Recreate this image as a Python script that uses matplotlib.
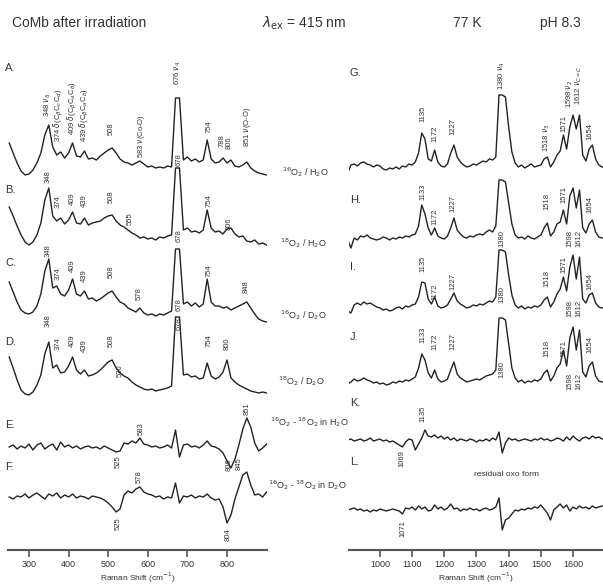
import matplotlib.pyplot as plt

plt.rcParams['font.family'] = ['Liberation Sans', 'DejaVu Sans']
plt.rcParams['mathtext.fontset'] = 'dejavusans'

# x grids (cm-1)
wn_left = list(range(250, 901, 10))
wn_right = list(range(900, 1701, 10))

# spectra, intensities in arbitrary units above each trace baseline
A = [22, 12, 2, -6, -10, -9, -5, 2, 12, 30, 40, 18, 10, 13, 7, 12, 22, 9, 8, 14,
     6, 7, 5, 9, 12, 15, 17, 12, 6, 3, 2, 0, 2, 4, 1, -2, -1, -3, -2, -3,
     -1, -2, 67, 67, 5, 8, 4, 6, 3, 5, 25, 6, 2, 3, 7, 2, 5, -1, -2, 0,
     3, -3, -6, -8, -9, -10]
B = [31, 22, 12, 3, -4, -7, -4, 3, 15, 38, 50, 22, 17, 20, 14, 18, 26, 15, 14, 20,
     13, 15, 16, 17, 20, 22, 23, 17, 13, 11, 8, 5, 3, 0, 1, -1, 0, -2, 1, 0,
     2, 3, 70, 70, 8, 10, 6, 7, 5, 8, 28, 10, 6, 7, 4, 9, 10, 4, 1, 2,
     -3, -4, -2, -6, -5, -7]
C = [34, 24, 14, 6, 3, 2, 4, 10, 22, 45, 57, 28, 30, 22, 20, 26, 37, 22, 20, 25,
     17, 18, 15, 17, 20, 23, 25, 19, 14, 12, 8, 6, 4, 8, 3, 1, 2, 0, 2, 1,
     3, 5, 67, 67, 12, 14, 10, 13, 9, 12, 37, 14, 10, 10, 8, 9, 6, 8, 10, 12,
     14, 8, 2, -3, -5, -6]
D = [33, 22, 10, 0, -4, -5, -2, 5, 15, 36, 48, 22, 25, 17, 18, 24, 33, 20, 16, 20,
     14, 15, 17, 20, 24, 28, 30, 22, 17, 14, 12, 8, 5, 3, 1, 0, 1, -1, 0, 1,
     2, 4, 73, 73, 15, 16, 13, 14, 11, 12, 27, 14, 11, 13, 18, 30, 12, 8, 5, 3,
     1, -1, -2, -3, -2, -3]
E = [0, 2, -2, 1, -1, 3, -3, 2, 4, -2, 1, 3, -3, 5, 0, 2, -1, 1, -2, 0,
     1, -1, 0, -2, 1, -1, -3, -5, -4, 4, 3, 6, 4, 9, 3, 2, 0, 1, -1, 0,
     2, -1, 17, -10, 2, 3, 0, 1, -1, 2, 6, 1, 0, -2, -6, -14, -21, -12, 2, 18,
     29, 20, 4, -4, -1, 3]
F = [0, -2, 1, 0, 3, -1, 2, 4, 1, -2, 3, 1, 4, -1, 2, 0, 3, -1, 1, 0,
     -2, 1, 0, -1, -3, -6, -10, -15, -12, 2, 6, 4, 8, 10, 5, 3, 2, 0, 1, -2,
     0, -1, 14, -6, 1, 0, 2, -1, 1, 0, 3, -1, -3, -2, -10, -26, -18, -2, 10, 22,
     25, 12, 2, 3, 0, 5]

G = [-6, 2, 3, 1, 4, 5, 3, 2, 0, 2, 1, -2, -3, -1, -2, 0, -2, 1, 0, 3,
     2, 5, 14, 34, 28, 8, 6, 17, 5, 1, 0, 3, 14, 22, 10, 5, 2, 0, 1, 3,
     2, 4, 6, 5, 8, 7, 10, 72, 72, 70, 40, 15, 4, 0, 2, -1, 1, 3, 0, 1,
     2, 8, 10, 0, 5, 12, 16, 32, 18, 40, 52, 38, 52, 12, 6, 18, 22, 8, 2, 0, 0]
H = [-2, -10, 0, -2, 2, 1, 3, 0, -1, -2, -1, 1, 0, -2, 0, -1, 1, 0, 2, 1,
     3, 4, 12, 33, 24, 10, 3, 10, 2, 0, -1, 2, 10, 20, 8, 4, 1, 0, 2, 1,
     3, 4, 3, 6, 8, 6, 12, 58, 58, 56, 35, 14, 3, 0, 1, -1, 2, 0, -1, 1,
     3, 10, 15, 2, 6, 14, 16, 28, 14, 42, 50, 30, 48, 10, 5, 14, 18, 6, 1, 0, 0]
I = [-4, -6, 2, 4, 2, 5, 3, 4, 2, 0, -1, -3, -2, -4, -3, -1, 0, -2, 1, 0,
     2, 3, 10, 25, 24, 8, 3, 10, 1, -1, 0, 2, 8, 14, 6, 3, 1, -1, 0, 2,
     1, 3, 2, 4, 6, 5, 10, 57, 57, 55, 32, 12, 2, -1, 1, -2, 0, -1, 1, 0,
     2, 7, 10, 0, 5, 13, 18, 30, 16, 40, 52, 28, 50, 8, 4, 12, 14, 4, 0, -1, 0]
J = [-2, 0, 3, 1, 2, 4, 2, 1, -1, 0, -2, -1, -3, -2, 0, -1, 1, 0, 2, 1,
     3, 5, 14, 28, 22, 9, 4, 12, 3, 0, 1, 3, 12, 20, 8, 4, 2, 0, 1, 2,
     3, 2, 4, 6, 7, 8, 12, 64, 64, 62, 38, 14, 4, 0, 2, -1, 1, 0, 2, 1,
     3, 9, 12, 1, 6, 14, 18, 32, 16, 44, 55, 32, 52, 10, 5, 16, 20, 6, 1, 0, 0]
K = [0, 1, -1, 0, 1, -1, 0, 2, -1, 0, 1, -1, 0, -2, -1, -3, -5, -7, -2, 1,
     0, -10, -4, 2, 10, 4, 3, 5, 2, 4, 1, 3, 0, 2, -1, 1, 0, -1, 1, 0,
     -2, 0, -1, 1, -1, 2, 0, 8, -13, -3, 2, 0, 1, -1, 0, 1, 0, -1, 1, 0,
     2, 0, 1, -1, 0, 2, 1, -1, 3, 0, 4, 1, -1, 2, 3, 1, 4, 2, 3, 1, 2]
L = [0, 1, 2, 0, 1, -1, 0, -2, 0, -1, 1, 0, -1, 0, 1, 0, -1, -4, 2, 1,
     3, 0, 4, 1, 3, -1, 0, 5, 1, 3, 0, 2, 6, 1, 2, -1, 1, 0, 2, 0,
     1, -1, 1, 2, 0, 1, 3, 12, -20, -10, -8, -4, 0, -1, 1, 0, 2, 1, 3, 2,
     5, 1, -3, -10, 0, 3, 6, 2, 5, -1, 3, 1, 4, 2, 3, 1, 4, 2, 3, 4, 5]

left_traces = [("A", A), ("B", B), ("C", C), ("D", D), ("E", E), ("F", F)]
right_traces = [("G", G), ("H", H), ("I", I), ("J", J), ("K", K), ("L", L)]

sample_names = [r"$^{16}$O$_2$ / H$_2$O", r"$^{18}$O$_2$ / H$_2$O",
                r"$^{16}$O$_2$ / D$_2$O", r"$^{18}$O$_2$ / D$_2$O",
                r"$^{16}$O$_2$ - $^{18}$O$_2$ in H$_2$O",
                r"$^{16}$O$_2$ - $^{18}$O$_2$ in D$_2$O"]

# peak annotations: (wavenumber, text, pixel y, 'b' = text above / 't' = text below)
left_peaks = [
    (348, r"348 $\nu_8$", 117, 'b'), (374, r"374 $\delta$(C$_\beta$C$_c$C$_d$)", 142, 'b'),
    (409, r"409 $\delta$(C$_\beta$C$_a$C$_b$)", 135, 'b'), (439, r"439 $\delta$(C$_\beta$C$_a$C$_b$)", 142, 'b'),
    (508, "508", 135, 'b'), (583, r"583 $\nu$(Co-O)", 158, 'b'), (676, r"676 $\nu_4$", 85, 'b'),
    (678, "678", 166, 'b'), (754, "754", 133, 'b'), (788, "788", 147, 'b'), (806, "806", 149, 'b'),
    (851, r"851 $\nu$(O-O)", 147, 'b'),
    (348, "348", 183, 'b'), (374, "374", 208, 'b'), (409, "409", 205, 'b'), (439, "439", 207, 'b'),
    (508, "508", 203, 'b'), (555, "555", 225, 'b'), (678, "678", 242, 'b'), (754, "754", 207, 'b'),
    (806, "806", 230, 'b'),
    (348, "348", 257, 'b'), (374, "374", 280, 'b'), (409, "409", 272, 'b'), (439, "439", 282, 'b'),
    (508, "508", 278, 'b'), (578, "578", 300, 'b'), (678, "678", 311, 'b'), (754, "754", 277, 'b'),
    (848, "848", 293, 'b'),
    (348, "348", 327, 'b'), (374, "374", 350, 'b'), (409, "409", 347, 'b'), (439, "439", 352, 'b'),
    (508, "508", 347, 'b'), (530, "530", 377, 'b'), (678, "678", 330, 'b'), (754, "754", 347, 'b'),
    (800, "800", 350, 'b'),
    (525, "525", 455, 't'), (583, "583", 435, 'b'), (851, "851", 415, 'b'), (806, "806", 458, 't'),
    (830, "845", 470, 'b'),
    (525, "525", 517, 't'), (578, "578", 483, 'b'), (804, "804", 528, 't'),
]
right_peaks = [
    (1135, "1135", 122, 'b'), (1172, "1172", 142, 'b'), (1227, "1227", 135, 'b'),
    (1380, r"1380 $\nu_4$", 90, 'b'), (1518, r"1518 $\nu_3$", 152, 'b'), (1571, "1571", 132, 'b'),
    (1591, r"1598 $\nu_2$", 108, 'b'), (1619, r"1612 $\nu_{C=C}$", 105, 'b'), (1654, "1654", 140, 'b'),
    (1133, "1133", 200, 'b'), (1172, "1172", 225, 'b'), (1227, "1227", 212, 'b'), (1380, "1380", 247, 'b'),
    (1518, "1518", 210, 'b'), (1571, "1571", 203, 'b'), (1591, "1598", 247, 'b'), (1619, "1612", 247, 'b'),
    (1654, "1654", 213, 'b'),
    (1135, "1135", 272, 'b'), (1172, "1172", 300, 'b'), (1227, "1227", 290, 'b'), (1380, "1380", 303, 'b'),
    (1518, "1518", 287, 'b'), (1571, "1571", 273, 'b'), (1591, "1598", 317, 'b'), (1619, "1612", 317, 'b'),
    (1654, "1654", 290, 'b'),
    (1133, "1133", 343, 'b'), (1172, "1172", 350, 'b'), (1227, "1227", 350, 'b'), (1380, "1380", 378, 'b'),
    (1518, "1518", 357, 'b'), (1571, "1571", 357, 'b'), (1591, "1598", 390, 'b'), (1619, "1612", 390, 'b'),
    (1654, "1654", 353, 'b'),
    (1135, "1135", 422, 'b'), (1069, "1069", 450, 't'),
    (1071, "1071", 520, 't'),
]

# layout (pixels from the top of a 603x586 figure)
W, Hpx, AX0 = 603, 586, 550
baselines = [165, 238, 316, 390, 447, 497]
baselines_r = [167, 238, 307, 382, 440, 510]
ink = '#222222'

fig = plt.figure(figsize=(6.03, 5.86), dpi=100)
axL = fig.add_axes([8 / W, (Hpx - AX0) / Hpx, 259 / W, AX0 / Hpx])
axR = fig.add_axes([349 / W, (Hpx - AX0) / Hpx, 254 / W, AX0 / Hpx])

for ax, wn, traces, bases in ((axL, wn_left, left_traces, baselines),
                              (axR, wn_right, right_traces, baselines_r)):
    for (name, vals), base in zip(traces, bases):
        ax.plot(wn, [AX0 - base + v for v in vals], color=ink, lw=1.0)

for ax, peaks in ((axL, left_peaks), (axR, right_peaks)):
    for x, txt, py, side in peaks:
        ax.text(x, AX0 - py, txt, rotation=90, fontsize=5.5, color='#333333',
                ha='center', va='bottom' if side == 'b' else 'top')

axL.set_xlim(247, 901)
axR.set_xlim(904, 1693)
axL.set_xticks([300, 400, 500, 600, 700, 800])
axR.set_xticks([1000, 1100, 1200, 1300, 1400, 1500, 1600])
for ax in (axL, axR):
    ax.set_ylim(0, AX0)
    ax.patch.set_alpha(0)
    for s in ('top', 'right', 'left'):
        ax.spines[s].set_visible(False)
    ax.spines['bottom'].set_linewidth(1.5)
    ax.spines['bottom'].set_color('#555555')
    ax.set_yticks([])
    ax.tick_params(axis='x', direction='out', length=5, width=1.2, color='#555555',
                   labelsize=6.5, labelcolor='#333333', pad=2)
    ax.set_xlabel("Raman Shift (cm$^{-1}$)", fontsize=6, color='#333333', labelpad=1)

# panel letters
for i, (name, _) in enumerate(left_traces):
    fig.text(5 / W, 1 - [68, 190, 263, 342, 425, 467][i] / Hpx, name + ".",
             fontsize=8, color='#333333', va='center')
for i, (name, _) in enumerate(right_traces):
    fig.text(350 / W, 1 - [73, 200, 267, 337, 403, 462][i] / Hpx, name + ".",
             fontsize=8, color='#333333', va='center')

# sample names between the panels
for txt, (px, py) in zip(sample_names, [(282, 172), (280, 243), (280, 315),
                                         (278, 381), (270, 422), (268, 485)]):
    fig.text(px / W, 1 - py / Hpx, txt, fontsize=6.5, color='#333333', va='center')

fig.text(506 / W, 1 - 474 / Hpx, "residual oxo form", fontsize=6, color='#333333',
         ha='center', va='center')

# header
fig.text(12 / W, 1 - 23 / Hpx, "CoMb after irradiation", fontsize=10, color='#333333', va='center')
fig.text(262 / W, 1 - 23 / Hpx, r"$\lambda_{\mathrm{ex}}$ = 415 nm", fontsize=10, color='#333333', va='center')
fig.text(453 / W, 1 - 23 / Hpx, "77 K", fontsize=10, color='#333333', va='center')
fig.text(540 / W, 1 - 23 / Hpx, "pH 8.3", fontsize=10, color='#333333', va='center')

fig.savefig("out.png", dpi=100)
